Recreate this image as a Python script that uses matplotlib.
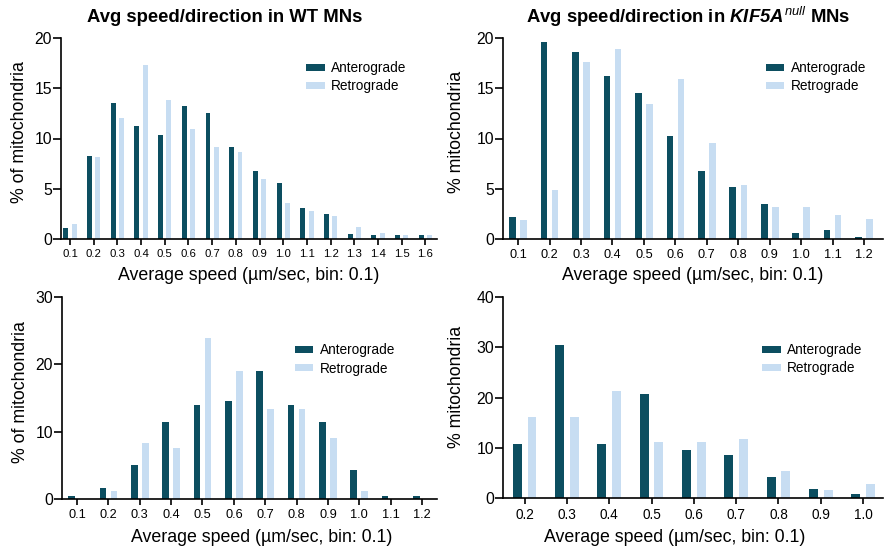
import matplotlib
matplotlib.use("Agg")
import matplotlib.pyplot as plt
import numpy as np

plt.rcParams['font.family'] = ['Liberation Sans', 'DejaVu Sans']
plt.rcParams['mathtext.fontset'] = 'custom'
plt.rcParams['mathtext.it'] = 'Liberation Sans:italic:bold'
plt.rcParams['mathtext.rm'] = 'Liberation Sans:italic:bold'
plt.rcParams['mathtext.sf'] = 'Liberation Sans:italic'

# ---------------- data ----------------
wt_speeds = [0.1, 0.2, 0.3, 0.4, 0.5, 0.6, 0.7, 0.8, 0.9, 1.0, 1.1, 1.2, 1.3, 1.4, 1.5, 1.6]
wt_antero = [1.1, 8.3, 13.5, 11.2, 10.3, 13.2, 12.5, 9.2, 6.8, 5.6, 3.1, 2.5, 0.5, 0.4, 0.35, 0.35]
wt_retro = [1.5, 8.2, 12.0, 17.3, 13.8, 10.9, 9.2, 8.7, 6.0, 3.6, 2.8, 2.3, 1.2, 0.55, 0.4, 0.35]

ko_speeds = [0.1, 0.2, 0.3, 0.4, 0.5, 0.6, 0.7, 0.8, 0.9, 1.0, 1.1, 1.2]
ko_antero = [2.2, 19.6, 18.6, 16.2, 14.55, 10.2, 6.8, 5.2, 3.5, 0.55, 0.85, 0.2]
ko_retro = [1.9, 4.9, 17.6, 18.9, 13.4, 15.9, 9.6, 5.35, 3.2, 3.2, 2.35, 1.95]

bl_speeds = [0.1, 0.2, 0.3, 0.4, 0.5, 0.6, 0.7, 0.8, 0.9, 1.0, 1.1, 1.2]
bl_antero = [0.45, 1.7, 5.0, 11.4, 13.9, 14.6, 19.0, 13.9, 11.4, 4.3, 0.45, 0.45]
bl_retro = [0.0, 1.15, 8.3, 7.6, 23.9, 19.0, 13.3, 13.3, 9.1, 1.2, 0.0, 0.0]

br_speeds = [0.2, 0.3, 0.4, 0.5, 0.6, 0.7, 0.8, 0.9, 1.0]
br_antero = [10.7, 30.4, 10.7, 20.6, 9.6, 8.5, 4.1, 1.85, 0.85]
br_retro = [16.2, 16.2, 21.3, 11.1, 11.1, 11.8, 5.4, 1.6, 2.85]

series_labels = ['Anterograde', 'Retrograde']
xlabel_text = 'Average speed (µm/sec, bin: 0.1)'

# ---------------- style ----------------
ANTERO = '#0c4e60'
RETRO = '#c7ddf2'
W, H = 894, 553

fig = plt.figure(figsize=(W / 100, H / 100), dpi=100)


def px_axes(left, right, top, bottom):
    return fig.add_axes([left / W, 1 - bottom / H, (right - left) / W, (bottom - top) / H])


def draw(ax, speeds, antero, retro, xlim, ylim, yticks, leg_anchor, xtick_fs):
    x = np.array(speeds)
    w = 0.021
    off = 0.0175
    ax.bar(x - off, antero, width=w, color=ANTERO, label=series_labels[0], linewidth=0)
    ax.bar(x + off, retro, width=w, color=RETRO, label=series_labels[1], linewidth=0)
    ax.set_xlim(*xlim)
    ax.set_ylim(*ylim)
    ax.set_xticks(x)
    ax.set_xticklabels([f'{v:.1f}' for v in speeds], fontsize=xtick_fs)
    ax.set_yticks(yticks)
    ax.set_yticklabels([str(t) for t in yticks], fontsize=11.3)
    for s in ['top', 'right']:
        ax.spines[s].set_visible(False)
    for s in ['left', 'bottom']:
        ax.spines[s].set_linewidth(1.2)
        ax.spines[s].set_color('black')
    ax.tick_params(axis='x', length=4.5, width=1.2, pad=2.5, colors='black')
    ax.tick_params(axis='y', length=5.5, width=1.2, pad=1.0, colors='black')
    ax.legend(loc='upper left', bbox_to_anchor=leg_anchor, frameon=False,
              fontsize=9.8, borderpad=0, borderaxespad=0,
              handlelength=1.35, handleheight=0.45, handletextpad=0.5,
              labelspacing=0.3)


ax1 = px_axes(61, 437, 38, 239)
draw(ax1, wt_speeds, wt_antero, wt_retro, (0.062, 1.649), (0, 20), [0, 5, 10, 15, 20],
     (0.652, 0.885), 8.2)
ax2 = px_axes(503, 883, 38, 239)
draw(ax2, ko_speeds, ko_antero, ko_retro, (0.052, 1.26), (0, 20), [0, 5, 10, 15, 20],
     (0.692, 0.885), 9.2)
ax3 = px_axes(62, 437, 297, 499)
draw(ax3, bl_speeds, bl_antero, bl_retro, (0.052, 1.248), (0, 30), [0, 10, 20, 30],
     (0.621, 0.77), 9.2)
ax4 = px_axes(503, 883, 297, 498)
draw(ax4, br_speeds, br_antero, br_retro, (0.149, 1.047), (0, 40), [0, 10, 20, 30, 40],
     (0.682, 0.77), 9.8)

# titles
fig.text(225 / W, 1 - 17 / H, 'Avg speed/direction in WT MNs', ha='center', va='center',
         fontsize=13.3, fontweight='bold')
fig.text(688 / W, 1 - 17 / H, r'Avg speed/direction in $\mathit{KIF5A}^{\mathsf{null}}$ MNs',
         ha='center', va='center', fontsize=13.3, fontweight='bold')

# y labels
fig.text(20 / W, 1 - 132 / H, '% of mitochondria', rotation=90, ha='center', va='center', fontsize=12.8)
fig.text(457 / W, 1 - 132 / H, '% mitochondria', rotation=90, ha='center', va='center', fontsize=12.8)
fig.text(21 / W, 1 - 392 / H, '% of mitochondria', rotation=90, ha='center', va='center', fontsize=12.8)
fig.text(457 / W, 1 - 387 / H, '% mitochondria', rotation=90, ha='center', va='center', fontsize=12.8)

# x labels
fig.text(249 / W, 1 - 275 / H, xlabel_text, ha='center', va='center', fontsize=12.8)
fig.text(693 / W, 1 - 275 / H, xlabel_text, ha='center', va='center', fontsize=12.8)
fig.text(262 / W, 1 - 538 / H, xlabel_text, ha='center', va='center', fontsize=12.8)
fig.text(675 / W, 1 - 538 / H, xlabel_text, ha='center', va='center', fontsize=12.8)

fig.savefig('out.png', dpi=100)
